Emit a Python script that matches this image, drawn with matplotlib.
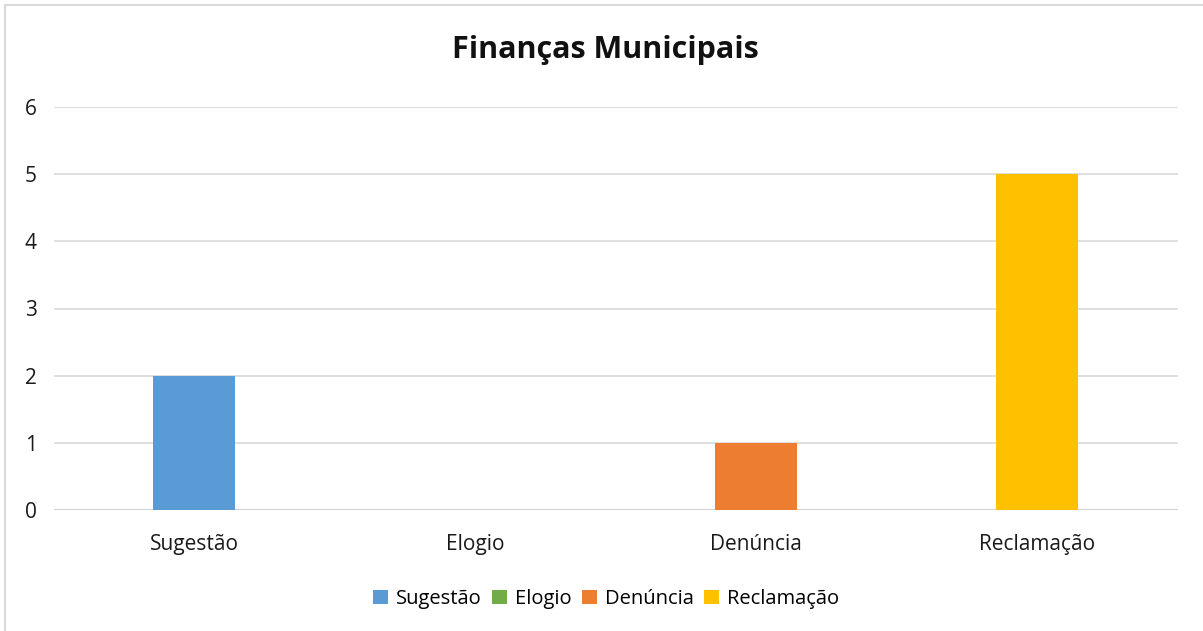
import matplotlib
matplotlib.use("Agg")
import matplotlib.pyplot as plt
from matplotlib.patches import Rectangle, Patch

plt.rcParams['font.family'] = ['Open Sans', 'DejaVu Sans']

categories = ["Sugestão", "Elogio", "Denúncia", "Reclamação"]
values = [2, 0, 1, 5]
colors = ["#5B9BD5", "#70AD47", "#ED7D31", "#FFC000"]
yticks = [0, 1, 2, 3, 4, 5, 6]
title = "Finanças Municipais"

fig = plt.figure(figsize=(12.03, 6.31), dpi=100)
ax = fig.add_axes([53.5/1203, 1-510/631, (1177.5-53.5)/1203, (510-107)/631])

x = list(range(len(categories)))
ax.bar(x, values, width=0.29, color=colors, zorder=3)
ax.set_xlim(-0.5, len(categories)-0.5)
ax.set_ylim(0, 6)
ax.set_yticks(yticks)
ax.set_xticks(x)
ax.set_xticklabels(categories)
ax.tick_params(axis='both', length=0, labelsize=15, colors='#1a1a1a')
ax.tick_params(axis='x', pad=17)
ax.tick_params(axis='y', pad=12)
ax.grid(axis='y', color='#d9d9d9', linewidth=1.2, zorder=0)
for s in ax.spines.values():
    s.set_visible(False)
ax.axhline(0, color='#d0d0d0', linewidth=1.2, zorder=2)

fig.text(605/1203, 1-50/631, title, ha='center', va='center', fontsize=22, fontweight='bold', color='#111111')

handles = [Patch(facecolor=c, label=l) for c, l in zip(colors, categories)]
fig.legend(handles=handles, loc='center', bbox_to_anchor=(606/1203, 1-599/631), ncol=4, frameon=False,
           fontsize=14.5, handlelength=0.75, handleheight=0.75, handletextpad=0.4, columnspacing=0.5)

fig.patches.append(Rectangle((5/1203, -0.01), 1.02, 1-5/631+0.01, transform=fig.transFigure,
                             fill=False, edgecolor='#d9d9d9', linewidth=1.5))

fig.savefig("out.png", dpi=100)
